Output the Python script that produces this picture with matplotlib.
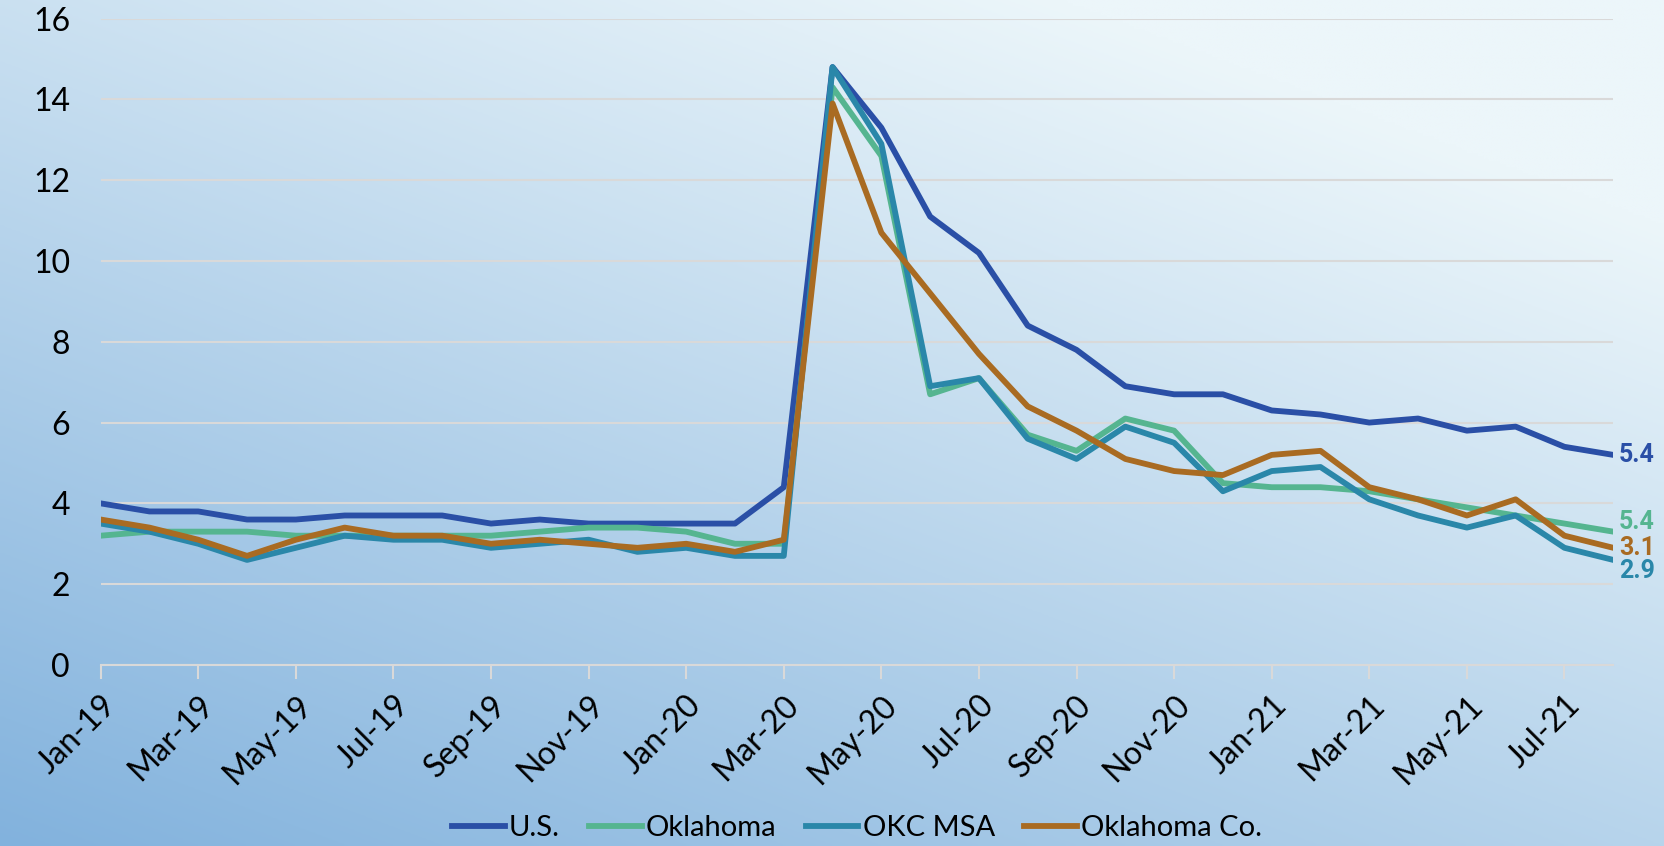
import matplotlib.pyplot as plt
import numpy as np

plt.rcParams['font.family'] = ['Lato', 'DejaVu Sans']

months = ['Jan-19', 'Feb-19', 'Mar-19', 'Apr-19', 'May-19', 'Jun-19', 'Jul-19', 'Aug-19',
          'Sep-19', 'Oct-19', 'Nov-19', 'Dec-19', 'Jan-20', 'Feb-20', 'Mar-20', 'Apr-20',
          'May-20', 'Jun-20', 'Jul-20', 'Aug-20', 'Sep-20', 'Oct-20', 'Nov-20', 'Dec-20',
          'Jan-21', 'Feb-21', 'Mar-21', 'Apr-21', 'May-21', 'Jun-21', 'Jul-21', 'Aug-21']

us = [4.0, 3.8, 3.8, 3.6, 3.6, 3.7, 3.7, 3.7, 3.5, 3.6, 3.5, 3.5, 3.5, 3.5, 4.4, 14.8,
      13.3, 11.1, 10.2, 8.4, 7.8, 6.9, 6.7, 6.7, 6.3, 6.2, 6.0, 6.1, 5.8, 5.9, 5.4, 5.2]
oklahoma = [3.2, 3.3, 3.3, 3.3, 3.2, 3.2, 3.2, 3.2, 3.2, 3.3, 3.4, 3.4, 3.3, 3.0, 3.0, 14.3,
            12.6, 6.7, 7.1, 5.7, 5.3, 6.1, 5.8, 4.5, 4.4, 4.4, 4.3, 4.1, 3.9, 3.7, 3.5, 3.3]
okc_msa = [3.5, 3.3, 3.0, 2.6, 2.9, 3.2, 3.1, 3.1, 2.9, 3.0, 3.1, 2.8, 2.9, 2.7, 2.7, 14.8,
           12.9, 6.9, 7.1, 5.6, 5.1, 5.9, 5.5, 4.3, 4.8, 4.9, 4.1, 3.7, 3.4, 3.7, 2.9, 2.6]
ok_county = [3.6, 3.4, 3.1, 2.7, 3.1, 3.4, 3.2, 3.2, 3.0, 3.1, 3.0, 2.9, 3.0, 2.8, 3.1, 13.9,
             10.7, 9.2, 7.7, 6.4, 5.8, 5.1, 4.8, 4.7, 5.2, 5.3, 4.4, 4.1, 3.7, 4.1, 3.2, 2.9]

series_names = ['U.S.', 'Oklahoma', 'OKC MSA', 'Oklahoma Co.']
end_labels = ['5.4', '5.4', '2.9', '3.1']
colors = ['#2a4fa6', '#55b590', '#2a87a9', '#a96b22']

fig = plt.figure(figsize=(16.64, 8.46), dpi=100)

# diagonal gradient background
bg = fig.add_axes([0, 0, 1, 1], zorder=-10)
gx, gy = np.meshgrid(np.linspace(0, 1, 300), np.linspace(0, 1, 300))
t = np.clip(0.55 * gx + 0.75 * gy, 0, 1.1) / 1.1
c0 = np.array([0x82, 0xb2, 0xdd]) / 255
c1 = np.array([0xec, 0xf6, 0xfa]) / 255
img = c0[None, None, :] * (1 - t[..., None]) + c1[None, None, :] * t[..., None]
bg.imshow(img, origin='lower', extent=[0, 1, 0, 1], aspect='auto')
bg.axis('off')

ax = fig.add_axes([0.0605, 0.214, 0.909, 0.764])
ax.patch.set_alpha(0)
x = np.arange(len(months))
all_series = [us, oklahoma, okc_msa, ok_county]
for vals, name, col in zip(all_series, series_names, colors):
    ax.plot(x, vals, color=col, lw=4.2, label=name)

# end labels, nudged so they don't collide
nudges = [0, 7, -8, 0]
for vals, txt, col, dy in zip(all_series, end_labels, colors, nudges):
    ax.annotate(txt, (x[-1], vals[-1]), xytext=(4, dy), textcoords='offset points',
                color=col, fontsize=18, fontweight='bold', family=['Roboto', 'DejaVu Sans'],
                va='center', ha='left', annotation_clip=False)

ax.set_xlim(0, len(months) - 1)
ax.set_ylim(0, 16)
ax.set_yticks(range(0, 17, 2))
ax.set_xticks(x[::2])
ax.set_xticklabels(months[::2], rotation=45, ha='right', rotation_mode='anchor')
ax.tick_params(axis='y', length=0, labelsize=23, pad=22)
ax.tick_params(axis='x', length=10, color='#d9d9d9', width=1.5, labelsize=23, pad=8)
ax.grid(axis='y', color='#d9d9d9', lw=1.5)
ax.set_axisbelow(True)
for s in ['top', 'right', 'left']:
    ax.spines[s].set_visible(False)
ax.spines['bottom'].set_color('#d9d9d9')
ax.spines['bottom'].set_linewidth(1.5)

ax.legend(loc='center', bbox_to_anchor=(0.5, -0.252), ncol=4, frameon=False,
          fontsize=21, handlelength=1.8, handletextpad=0.15, columnspacing=1.0)

fig.savefig('out.png', dpi=100)
